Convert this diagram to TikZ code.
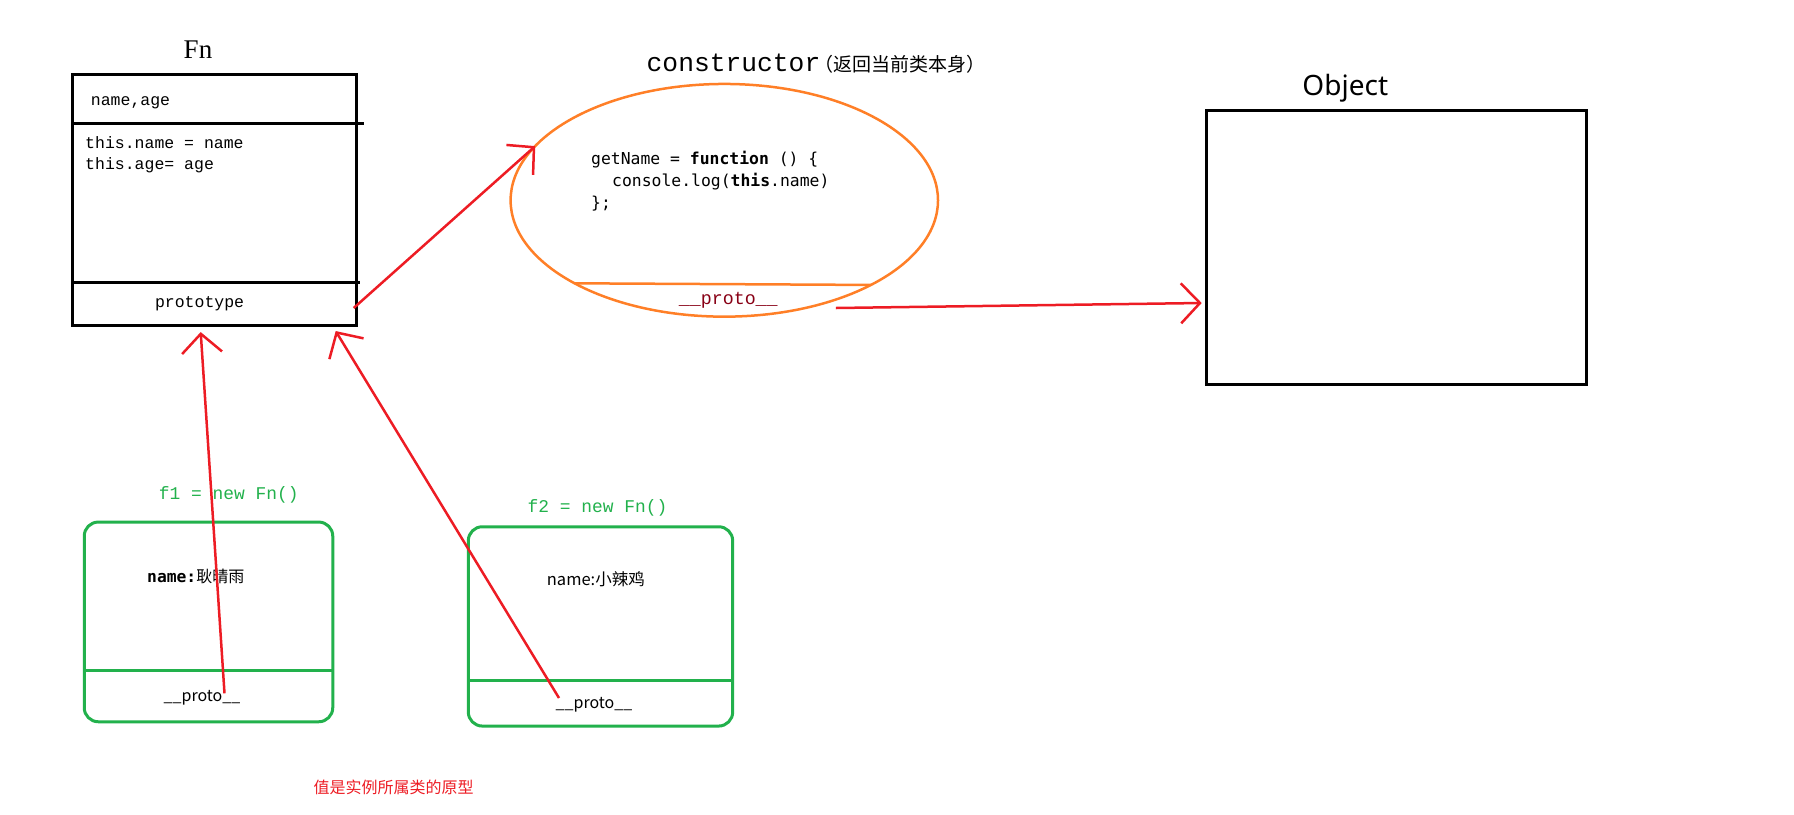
\documentclass[tikz,border=0pt]{standalone}
\usepackage{fontspec}
\setmainfont{Liberation Serif}
\setsansfont{Noto Sans}
\setmonofont{Liberation Mono}
\newfontfamily\cjk{Noto Sans CJK SC}
\newfontfamily\codefont{DejaVu Sans Mono}
\usepackage{tikz}
\usetikzlibrary{shapes.geometric,arrows.meta,positioning,calc}
\definecolor{paintred}{RGB}{237,28,36}
\definecolor{paintgreen}{RGB}{34,177,76}
\definecolor{paintorange}{RGB}{255,127,39}
\definecolor{darkred}{RGB}{136,0,21}

\begin{document}
\begin{tikzpicture}[x=1pt,y=-1pt,
  box/.style={draw,line width=3pt,inner sep=0pt,outer sep=0pt},
  greenbox/.style={draw=paintgreen,line width=3pt,rounded corners=14pt,inner sep=0pt,outer sep=0pt},
  redarrow/.style={draw=paintred,line width=2.5pt,-{Straight Barb[length=19pt,width=40pt]}},
  boxtext/.style={inner sep=0pt,font=\ttfamily\fontsize{16.5}{18}\selectfont},
  codetext/.style={inner sep=0pt,anchor=west,font=\codefont\fontsize{16.4}{18}\selectfont},
  greentext/.style={inner sep=0pt,text=paintgreen,font=\ttfamily\fontsize{17.9}{20}\selectfont},
  cjktext/.style={inner sep=0pt,font=\cjk\fontsize{16}{18}\selectfont}]
\useasboundingbox (0,0) rectangle (1794,814);

% Fn
\node[box,minimum width=284pt,minimum height=250.3pt] (fn) at (214.7,199.9) {};
\node[inner sep=0pt,font=\fontsize{27}{30}\selectfont] (fnlabel) at (198,50) {Fn};
\draw[line width=3pt] ([shift={(0,48.6)}]fn.north west) -- ++(291,0);
\draw[line width=3pt] ([shift={(0,-42.3)}]fn.south west) -- ++(287,0);
\node[boxtext,anchor=west] (fields) at (90.7,103) {name,age};
\node[boxtext,anchor=west] (body1) at (85,142.7) {this.name = name};
\node[boxtext,anchor=west] (body2) at (85,165.7) {this.age= age};
\node[boxtext] (proto) at (199.6,304) {prototype};

% constructor
\node[draw=paintorange,line width=2.5pt,ellipse,inner sep=0pt,outer sep=0pt,
  minimum width=427.4pt,minimum height=232.7pt] (ctor) at (724.3,200.3) {};
\draw[paintorange,line width=2.5pt] (ctor.209) -- (ctor.330);
\node[inner sep=0pt,anchor=west,font=\ttfamily\fontsize{26.3}{30}\selectfont] (ctorlabel) at (646.5,63.3)
  {constructor\kern-6pt{\cjk\fontsize{19}{20}\selectfont （返回当前类本身）}};
\node[codetext] (getname) at (591,159.3) {getName = \textbf{function} () \{};
\node[codetext] (consolelog) at (612,181.7) {console.log(\textbf{this}.name)};
\node[codetext] (closing) at (591,203.3) {\};};
\node[inner sep=0pt,text=darkred,font=\ttfamily\fontsize{18.3}{20}\selectfont] (ctorproto) at (728.3,300) {\_\_proto\_\_};

% Object
\node[box,minimum width=380pt,minimum height=274pt] (obj) at (1396.7,247) {};
\node[inner sep=0pt,font=\sffamily\fontsize{28}{32}\selectfont] (objlabel) at (1345.3,88) {Object};

% f1
\node[greenbox,minimum width=248.5pt,minimum height=199.7pt] (f1) at (208.5,621.9) {};
\draw[paintgreen,line width=3pt] ([shift={(0,-51)}]f1.south west) -- ([shift={(0,-51)}]f1.south east);
\node[greentext] (f1label) at (228.8,495) {f1 = new Fn()};
\node[cjktext,anchor=west] (f1name) at (147,576) {{\codefont\bfseries\fontsize{16.3}{18}\selectfont name:}耿晴雨};
\node[cjktext] (f1proto) at (202,698) {\_\_proto\_\_};

% f2
\node[greenbox,minimum width=264.4pt,minimum height=199.3pt] (f2) at (600.5,626.4) {};
\draw[paintgreen,line width=3pt] ([shift={(0,-46)}]f2.south west) -- ([shift={(0,-46)}]f2.south east);
\node[greentext] (f2label) at (597.5,508.3) {f2 = new Fn()};
\node[cjktext,anchor=west,font=\cjk\fontsize{16.5}{18}\selectfont] (f2name) at (546.7,579.3) {name:小辣鸡};
\node[cjktext] (f2proto) at (594,705) {\_\_proto\_\_};

\node[cjktext,text=paintred] (note) at (393.7,787.3) {值是实例所属类的原型};

\draw[redarrow] ($(proto -| fn.east)+(-3,4)$) -- (ctor.164);
\draw[redarrow] ($(ctorproto.east)+(58,8)$) -- ($(obj.west)+(-5,56)$);
\draw[redarrow] ($(f1proto)+(22.5,-4.7)$) -- ($(fn.south)+(-14,7)$);
\draw[redarrow] ($(f2proto)+(-35,-7)$) -- ($(fn.south)+(121,6)$);
\end{tikzpicture}
\end{document}
